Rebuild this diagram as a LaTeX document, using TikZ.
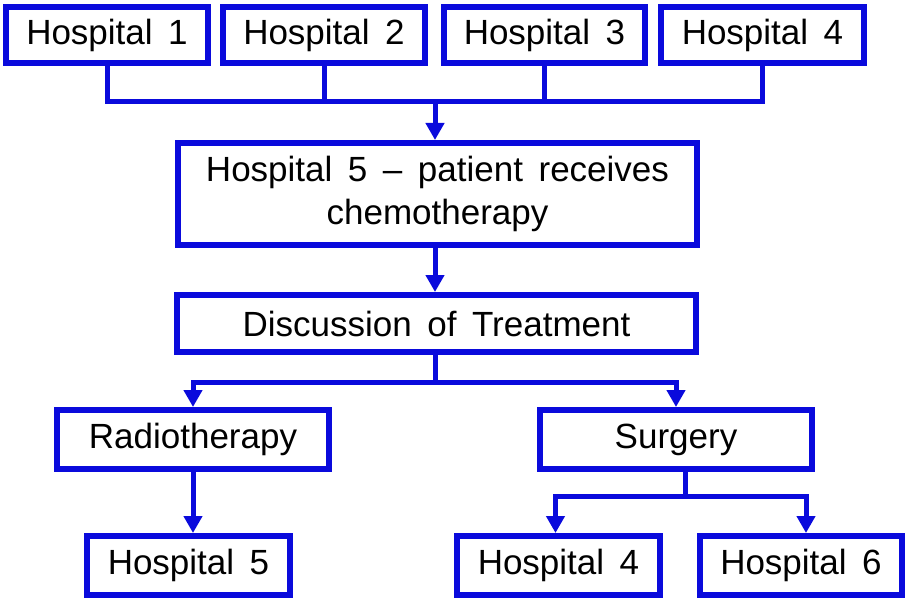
\documentclass[tikz,border=0pt]{standalone}
\usepackage{fontspec}
\setmainfont[WordSpace=1.6]{Liberation Sans}
\usetikzlibrary{arrows.meta}

\definecolor{boxblue}{RGB}{10,10,220}

\tikzset{
  hbox/.style={draw=boxblue, line width=6pt, fill=white, inner sep=0pt,
    align=center, minimum height=56pt, font=\fontsize{35}{43}\selectfont},
  link/.style={draw=boxblue, line width=5pt},
  arr/.style={link, -{Triangle[width=18pt,length=17pt]}}
}

\begin{document}
\begin{tikzpicture}[x=1pt, y=-1pt]

% Background and size of the page
    \fill[white] (0,0) rectangle (906,607);
    \useasboundingbox (0,0) rectangle (906,607);

% Top row of hospitals
    \node[hbox, minimum width=202pt] (hospA) at (107,35) {Hospital 1};
    \node[hbox, minimum width=202pt] (hospB) at (324,35) {Hospital 2};
    \node[hbox, minimum width=201pt] (hospC) at (544.5,35) {Hospital 3};
    \node[hbox, minimum width=203pt] (hospD) at (762.5,35) {Hospital 4};

% Chemotherapy and discussion
    \node[hbox, minimum width=519pt, minimum height=102pt] (chemo) at (437.5,194)
      {Hospital 5 – patient receives\\chemotherapy};
    \node[hbox, minimum width=519pt, minimum height=57pt] (disc) at (436.5,323.5)
      {Discussion of Treatment};

% Treatment options
    \node[hbox, minimum width=272pt, minimum height=59pt] (radio) at (193,439.5) {Radiotherapy};
    \node[hbox, minimum width=272pt, minimum height=59pt] (surg) at (676,439.5) {Surgery};

% Bottom row of hospitals
    \node[hbox, minimum width=203pt, minimum height=59pt] (radioHosp) at (188.5,565.5) {Hospital 5};
    \node[hbox, minimum width=203pt, minimum height=59pt] (surgHospA) at (558.5,565.5) {Hospital 4};
    \node[hbox, minimum width=202pt, minimum height=59pt] (surgHospB) at (801,565.5) {Hospital 6};

% Bus lines
    \coordinate (topBus) at (435,102);
    \coordinate (split) at (435,382);
    \coordinate (surgBus) at (685,496);

    \draw[link] (hospA.south) -- (hospA.south |- topBus) -- (hospD.south |- topBus) -- (hospD.south);
    \draw[link] (hospB.south) -- (hospB.south |- topBus);
    \draw[link] (hospC.south) -- (hospC.south |- topBus);
    \draw[arr] (topBus) -- (topBus |- chemo.north);

    \draw[arr] (chemo.south -| topBus) -- (topBus |- disc.north);

    \draw[link] (disc.south -| split) -- (split);
    \draw[arr] (split) -| (radio.north);
    \draw[arr] (split) -| (surg.north);

    \draw[arr] (radio.south) -- (radio.south |- radioHosp.north);

    \draw[link] (surg.south -| surgBus) -- (surgBus);
    \draw[arr] (surgBus) -| ([xshift=-3pt]surgHospA.north);
    \draw[arr] (surgBus) -| ([xshift=5pt]surgHospB.north);

\end{tikzpicture}
\end{document}
